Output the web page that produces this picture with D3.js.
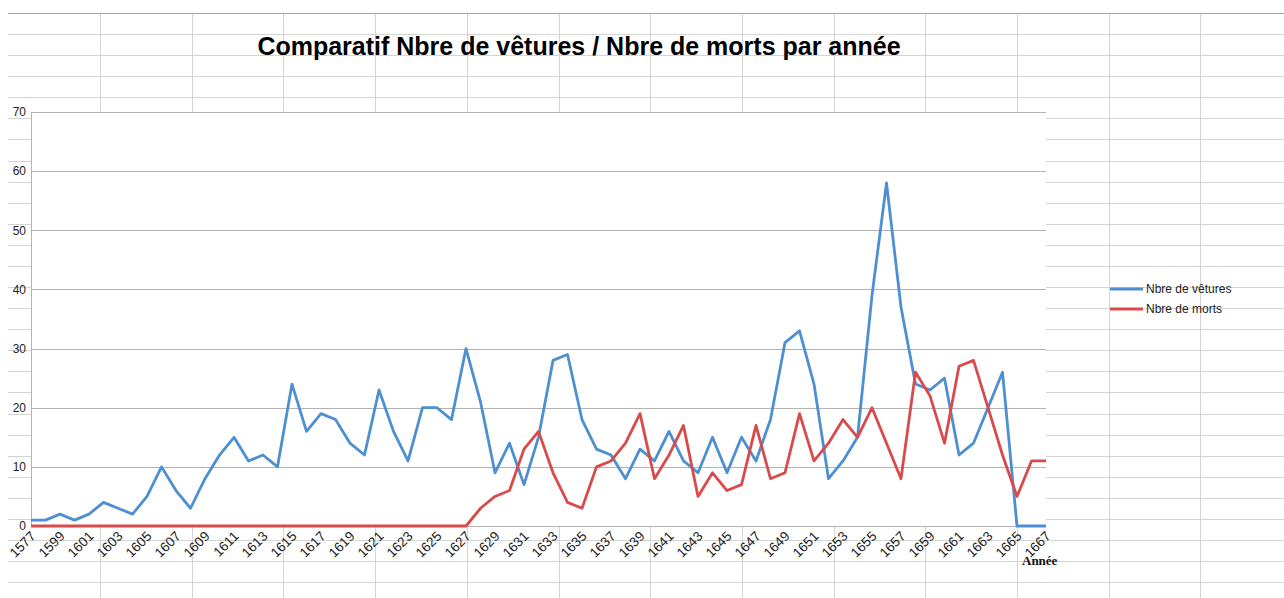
<!DOCTYPE html>
<html>
<head>
<meta charset="utf-8">
<script src="https://cdn.jsdelivr.net/npm/d3@7"></script>
<style>
  html, body { margin: 0; padding: 0; background: #fff; }
  svg { display: block; }
</style>
</head>
<body>
<div id="chart"></div>
<script>
var width = 1284, height = 598;

var years = ["1577", "1598", "1599", "1600", "1601", "1602", "1603", "1604", "1605", "1606",
  "1607", "1608", "1609", "1610", "1611", "1612", "1613", "1614", "1615", "1616",
  "1617", "1618", "1619", "1620", "1621", "1622", "1623", "1624", "1625", "1626",
  "1627", "1628", "1629", "1630", "1631", "1632", "1633", "1634", "1635", "1636",
  "1637", "1638", "1639", "1640", "1641", "1642", "1643", "1644", "1645", "1646",
  "1647", "1648", "1649", "1650", "1651", "1652", "1653", "1654", "1655", "1656",
  "1657", "1658", "1659", "1660", "1661", "1662", "1663", "1664", "1665", "1666",
  "1667"];

var vetures = [1, 1, 2, 1, 2, 4, 3, 2, 5, 10,
  6, 3, 8, 12, 15, 11, 12, 10, 24, 16,
  19, 18, 14, 12, 23, 16, 11, 20, 20, 18,
  30, 21, 9, 14, 7, 15, 28, 29, 18, 13,
  12, 8, 13, 11, 16, 11, 9, 15, 9, 15,
  11, 18, 31, 33, 24, 8, 11, 15, 39, 58,
  37, 24, 23, 25, 12, 14, 20, 26, 0, 0,
  0];

var morts = [0, 0, 0, 0, 0, 0, 0, 0, 0, 0,
  0, 0, 0, 0, 0, 0, 0, 0, 0, 0,
  0, 0, 0, 0, 0, 0, 0, 0, 0, 0,
  0, 3, 5, 6, 13, 16, 9, 4, 3, 10,
  11, 14, 19, 8, 12, 17, 5, 9, 6, 7,
  17, 8, 9, 19, 11, 14, 18, 15, 20, 14,
  8, 26, 22, 14, 27, 28, 20, 12, 5, 11,
  11];

var yTicks = [0, 10, 20, 30, 40, 50, 60, 70];
var seriesNames = ["Nbre de vêtures", "Nbre de morts"];
var seriesColors = ["#4d8fd0", "#da4a4b"];
var title = "Comparatif Nbre de vêtures / Nbre de morts par année";

var plot = { left: 31, right: 1046, top: 112, bottom: 526 };

var svg = d3.select("#chart").append("svg")
  .attr("width", width)
  .attr("height", height);

// spreadsheet cells behind the chart
var sheet = svg.append("g").attr("class", "sheet");
var rowH = 21.08, colW = 91.7;
for (var y = 13 + rowH; y < height; y += rowH) {
  sheet.append("line")
    .attr("x1", 8).attr("x2", width)
    .attr("y1", Math.round(y) + 0.5).attr("y2", Math.round(y) + 0.5)
    .attr("stroke", "#d4d4d4");
}
for (var x = 100; x < width; x += colW) {
  sheet.append("line")
    .attr("x1", Math.round(x) + 0.5).attr("x2", Math.round(x) + 0.5)
    .attr("y1", 13).attr("y2", height)
    .attr("stroke", "#d4d4d4");
}
sheet.append("line")
  .attr("x1", 8).attr("x2", width)
  .attr("y1", 13.5).attr("y2", 13.5)
  .attr("stroke", "#a8a8a8");

var xScale = d3.scalePoint().domain(years).range([plot.left, plot.right]);
var yScale = d3.scaleLinear().domain([0, 70]).range([plot.bottom, plot.top]);

// plot wall
svg.append("rect")
  .attr("x", plot.left).attr("y", plot.top)
  .attr("width", plot.right - plot.left)
  .attr("height", plot.bottom - plot.top)
  .attr("fill", "#fff");

svg.append("g").attr("class", "grid")
  .selectAll("line")
  .data(yTicks)
  .enter()
  .append("line")
  .attr("x1", plot.left).attr("x2", plot.right)
  .attr("y1", function (d) { return Math.round(yScale(d)) + 0.5; })
  .attr("y2", function (d) { return Math.round(yScale(d)) + 0.5; })
  .attr("stroke", "#b3b3b3");

svg.append("line")
  .attr("x1", plot.left + 0.5).attr("x2", plot.left + 0.5)
  .attr("y1", plot.top).attr("y2", plot.bottom)
  .attr("stroke", "#b3b3b3");

// y axis labels
var yAxis = d3.axisLeft(yScale).tickValues(yTicks).tickSize(0).tickPadding(5);
var yg = svg.append("g")
  .attr("transform", "translate(" + plot.left + ",0)")
  .call(yAxis);
yg.select(".domain").remove();
yg.selectAll("text")
  .style("font-family", "'Liberation Sans', Arial, sans-serif")
  .style("font-size", "12px")
  .attr("fill", "#222");

// x axis labels, every second category
var xAxis = d3.axisBottom(xScale)
  .tickValues(years.filter(function (d, i) { return i % 2 === 0; }))
  .tickSize(0);
var xg = svg.append("g")
  .attr("transform", "translate(0," + plot.bottom + ")")
  .call(xAxis);
xg.select(".domain").remove();
xg.selectAll("text")
  .attr("y", 0).attr("dy", 0)
  .attr("text-anchor", "end")
  .attr("transform", "translate(5,11) rotate(-45)")
  .style("font-family", "'Liberation Sans', Arial, sans-serif")
  .style("font-size", "13.5px")
  .attr("fill", "#222");

svg.append("text")
  .attr("x", 1022).attr("y", 565)
  .text("Année")
  .style("font-family", "'Liberation Serif', 'Times New Roman', serif")
  .style("font-weight", "bold")
  .style("font-size", "13px")
  .attr("fill", "#111");

// lines
var line = d3.line()
  .x(function (d, i) { return xScale(years[i]); })
  .y(function (d) { return yScale(d); });

[vetures, morts].forEach(function (values, k) {
  svg.append("path")
    .datum(values)
    .attr("d", line)
    .attr("fill", "none")
    .attr("stroke", seriesColors[k])
    .attr("stroke-width", 2.8)
    .attr("stroke-linejoin", "round");
});

// legend
var legend = svg.append("g").attr("class", "legend");
seriesNames.forEach(function (name, k) {
  var ly = 289 + k * 20;
  legend.append("line")
    .attr("x1", 1110).attr("x2", 1143)
    .attr("y1", ly).attr("y2", ly)
    .attr("stroke", seriesColors[k])
    .attr("stroke-width", 2.8);
  legend.append("text")
    .attr("x", 1146).attr("y", ly + 4)
    .text(name)
    .style("font-family", "'Liberation Sans', Arial, sans-serif")
    .style("font-size", "12px")
    .attr("fill", "#222");
});

// title
svg.append("text")
  .attr("x", 579).attr("y", 55)
  .attr("text-anchor", "middle")
  .text(title)
  .style("font-family", "'Liberation Sans', Arial, sans-serif")
  .style("font-weight", "bold")
  .style("font-size", "25px")
  .attr("fill", "#000");
</script>
</body>
</html>
